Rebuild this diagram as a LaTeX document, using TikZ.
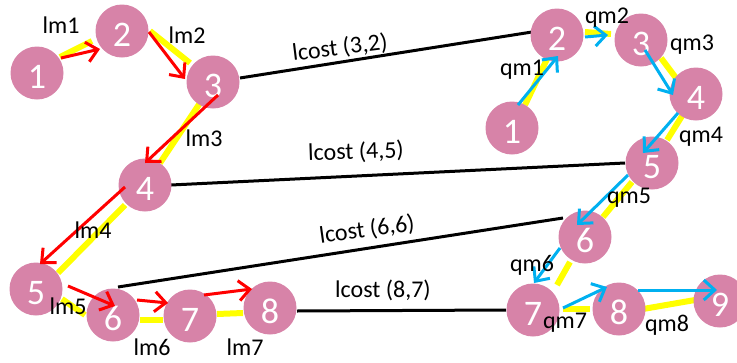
\documentclass[tikz,border=0pt]{standalone}
\usepackage{fontspec}
\setmainfont{Carlito}
\usetikzlibrary{arrows.meta}
\pgfdeclarelayer{background}
\pgfsetlayers{background,main}
\definecolor{nodepink}{RGB}{215,131,168}
\definecolor{pathyellow}{RGB}{255,255,0}
\definecolor{arrowblue}{RGB}{0,176,240}
\begin{document}
\begin{tikzpicture}[x=1pt,y=-1pt,
  vertex/.style={circle, fill=nodepink, minimum size=53pt, inner sep=0pt,
    text=white, font=\fontsize{36}{36}\selectfont, text height=31pt, text depth=0pt},
  hl/.style={line width=6pt, pathyellow},
  barb/.style={-{Straight Barb[length=11pt,width=20pt]}},
  larrow/.style={barb, line width=3pt, red},
  qarrow/.style={barb, line width=3pt, arrowblue},
  costline/.style={line width=3pt, black},
  edgetag/.style={font=\fontsize{24}{24}\selectfont, inner sep=0pt},
]
\useasboundingbox (0,0) rectangle (737,362);

% left chain
\node[vertex] (l1) at (37,73) {1};
\node[vertex] (l2) at (122,31) {2};
\node[vertex] (l3) at (213,82) {3};
\node[vertex] (l4) at (145,185) {4};
\node[vertex] (l5) at (36,289) {5};
\node[vertex] (l6) at (113,315) {6};
\node[vertex] (l7) at (190,316) {7};
\node[vertex] (l8) at (270,308) {8};

% right chain
\node[vertex] (r1) at (512,128) {1};
\node[vertex] (r2) at (557,35) {2};
\node[vertex] (r3) at (641,40) {3};
\node[vertex] (r4) at (696,94) {4};
\node[vertex] (r5) at (652,163) {5};
\node[vertex] (r6) at (585,237) {6};
\node[vertex] (r7) at (533,310) {7};
\node[vertex] (r8) at (619,309) {8};
\node[vertex] (r9) at (720,301) {9};

\begin{pgfonlayer}{background}
  % highlighted path, left
  \draw[hl] ([shift={(23,-16)}]l1.center) -- ([shift={(-30,10)}]l2.center);
  \draw[hl] ([shift={(28,0)}]l2.center) -- ([shift={(-23,-19)}]l3.center);
  \draw[hl] ([shift={(-13,21)}]l3.center) -- ([shift={(15,-22)}]l4.center);
  \draw[hl] ([shift={(-20,20)}]l4.center) -- ([shift={(22,-16)}]l5.center);
  \draw[hl] ([shift={(26,10)}]l5.center) -- ([shift={(-28,0)}]l6.center);
  \draw[hl] ([shift={(27,5)}]l6.center) -- ([shift={(-27,4)}]l7.center);
  \draw[hl] ([shift={(27,-2)}]l7.center) -- ([shift={(-27,5)}]l8.center);
  % highlighted path, right
  \draw[hl] ([shift={(13,-23)}]r1.center) -- ([shift={(-9,22)}]r2.center);
  \draw[hl] ([shift={(28,-3)}]r2.center) -- ([shift={(-30,-6)}]r3.center);
  \draw[hl] ([shift={(20,18)}]r3.center) -- ([shift={(-20,-16)}]r4.center);
  \draw[hl] ([shift={(-14,22)}]r4.center) -- ([shift={(15,-23)}]r5.center);
  \draw[hl] ([shift={(-20,19)}]r5.center) -- ([shift={(18,-20)}]r6.center);
  \draw[hl] ([shift={(-15,25)}]r6.center) -- ([shift={(24,-25)}]r7.center);
  \draw[hl] ([shift={(30,-1)}]r7.center) -- ([shift={(-29,0)}]r8.center);
  \draw[hl] ([shift={(24,0)}]r8.center) -- ([shift={(-25,-1)}]r9.center);
  % cost links between the chains
  \draw[costline] ([shift={(27,-4)}]l3.center) -- ([shift={(-25,-3)}]r2.center);
  \draw[costline] ([shift={(26,0)}]l4.center) -- ([shift={(-27,0)}]r5.center);
  \draw[costline] ([shift={(5,-28)}]l6.center) -- ([shift={(-22,-19)}]r6.center);
  \draw[costline] ([shift={(27,3)}]l8.center) -- ([shift={(-27,0)}]r7.center);
\end{pgfonlayer}

% moves, left
\draw[larrow] ([shift={(24,-15)}]l1.center) -- ([shift={(-22,18)}]l2.center);
\draw[larrow] ([shift={(27,1)}]l2.center) -- ([shift={(-28,-3)}]l3.center);
\draw[larrow] ([shift={(5,13)}]l3.center) -- ([shift={(0,-22)}]l4.center);
\draw[larrow] ([shift={(-20,2)}]l4.center) -- ([shift={(4,-25)}]l5.center);
\draw[larrow] ([shift={(32,-3)}]l5.center) -- ([shift={(2,-9)}]l6.center);
\draw[larrow] ([shift={(24,-15)}]l6.center) -- ([shift={(-22,-13)}]l7.center);
\draw[larrow] ([shift={(14,-21)}]l7.center) -- ([shift={(-18,-19)}]l8.center);

% moves, right
\draw[qarrow] ([shift={(6,-23)}]r1.center) -- ([shift={(1,21)}]r2.center);
\draw[qarrow] ([shift={(28,2)}]r2.center) -- ([shift={(-33,-5)}]r3.center);
\draw[qarrow] ([shift={(4,10)}]r3.center) -- ([shift={(-23,1)}]r4.center);
\draw[qarrow] ([shift={(-18,19)}]r4.center) -- ([shift={(-9,-10)}]r5.center);
\draw[qarrow] ([shift={(-24,12)}]r5.center) -- ([shift={(-8,-12)}]r6.center);
\draw[qarrow] ([shift={(-25,11)}]r6.center) -- ([shift={(1,-27)}]r7.center);
\draw[qarrow] ([shift={(30,-2)}]r7.center) -- ([shift={(-12,-22)}]r8.center);
\draw[qarrow] ([shift={(19,-19)}]r8.center) -- ([shift={(-3,-11)}]r9.center);

% labels
\node[edgetag] (lm1) at (61,25) {lm1};
\node[edgetag] (lm2) at (187,35) {lm2};
\node[edgetag] (lm3) at (204,138) {lm3};
\node[edgetag] (lm4) at (93,230) {lm4};
\node[edgetag] (lm5) at (68,306) {lm5};
\node[edgetag] (lm6) at (152,347) {lm6};
\node[edgetag] (lm7) at (245,347) {lm7};

\node[edgetag] (qm1) at (522,70) {qm1};
\node[edgetag] (qm2) at (607,18) {qm2};
\node[edgetag] (qm3) at (692,45) {qm3};
\node[edgetag] (qm4) at (701,137) {qm4};
\node[edgetag] (qm5) at (629,198) {qm5};
\node[edgetag] (qm6) at (532,265) {qm6};
\node[edgetag] (qm7) at (565,323) {qm7};
\node[edgetag] (qm8) at (667,325) {qm8};

\node[edgetag, rotate=7] (c32) at (340,48) {lcost (3,2)};
\node[edgetag, rotate=2] (c45) at (356,152) {lcost (4,5)};
\node[edgetag, rotate=8] (c66) at (367,230) {lcost (6,6)};
\node[edgetag] (c87) at (383,290) {lcost (8,7)};
\end{tikzpicture}
\end{document}
